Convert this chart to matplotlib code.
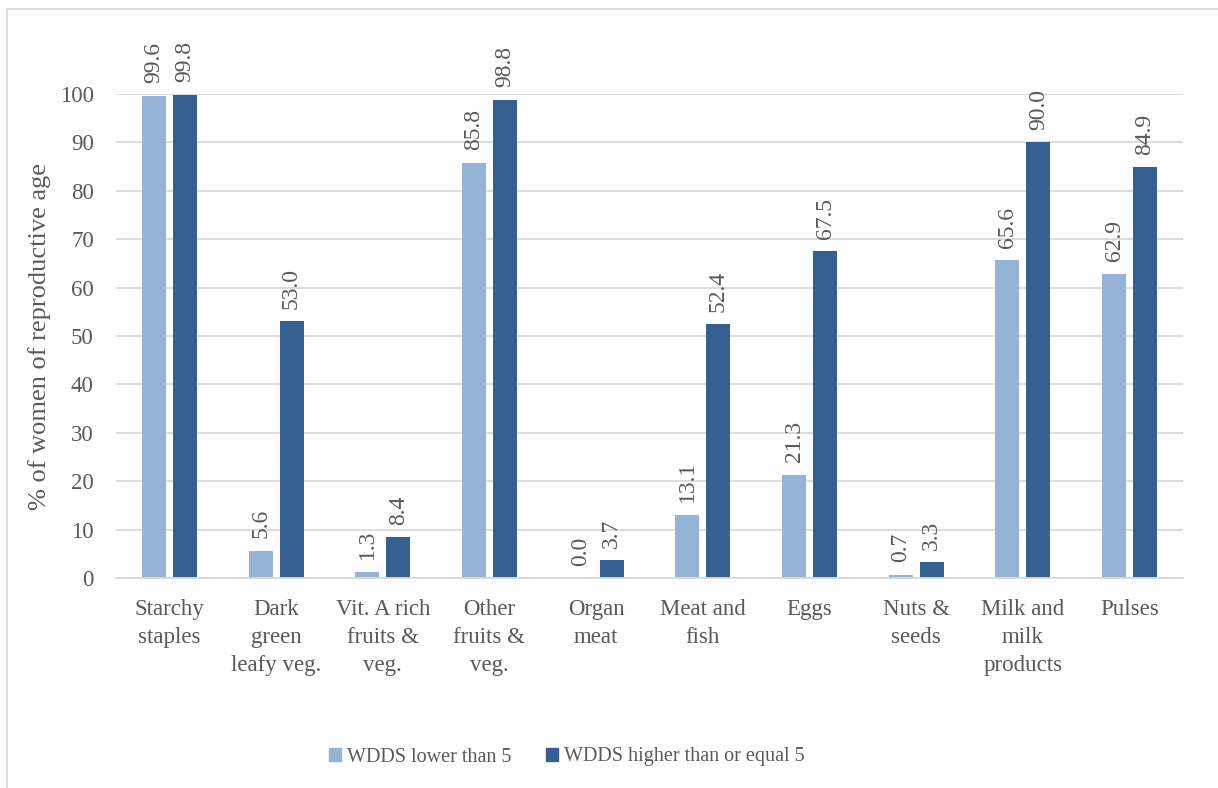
import numpy as np
import matplotlib
matplotlib.use("Agg")
import matplotlib.pyplot as plt
from matplotlib.patches import Rectangle, Patch

plt.rcParams['font.family'] = ['Liberation Serif', 'DejaVu Serif']

# food groups and share of women consuming each group
groups = ["Starchy\nstaples", "Dark\ngreen\nleafy veg.", "Vit. A rich\nfruits &\nveg.",
          "Other\nfruits &\nveg.", "Organ\nmeat", "Meat and\nfish", "Eggs",
          "Nuts &\nseeds", "Milk and\nmilk\nproducts", "Pulses"]
wdds_low = [99.6, 5.6, 1.3, 85.8, 0.0, 13.1, 21.3, 0.7, 65.6, 62.9]
wdds_high = [99.8, 53.0, 8.4, 98.8, 3.7, 52.4, 67.5, 3.3, 90.0, 84.9]
series_names = ["WDDS lower than 5", "WDDS higher than or equal 5"]

light = "#95b3d7"
dark = "#366092"
txt = "#595959"
grid = "#d9d9d9"

fig = plt.figure(figsize=(12.18, 7.88), dpi=100)
ax = fig.add_axes([116/1218, 1-578/788, (1183-116)/1218, 484/788])

x = np.arange(len(groups))
w = 0.225
off = 0.145
b1 = ax.bar(x - off, wdds_low, w, color=light, zorder=3)
b2 = ax.bar(x + off, wdds_high, w, color=dark, zorder=3)

for bars, vals in [(b1, wdds_low), (b2, wdds_high)]:
    for r, v in zip(bars, vals):
        ax.annotate(f"{v:.1f}", (r.get_x() + r.get_width()/2, v),
                    xytext=(0, 9), textcoords="offset points",
                    rotation=90, ha="center", va="bottom",
                    fontsize=17, color=txt, annotation_clip=False)

ax.set_xlim(-0.5, len(groups) - 0.5)
ax.set_ylim(0, 100)
ax.set_yticks(range(0, 101, 10))
ax.yaxis.grid(True, color=grid, lw=1.3, zorder=0)
ax.set_axisbelow(True)
for s in ["top", "right", "left"]:
    ax.spines[s].set_visible(False)
ax.spines["bottom"].set_color(grid)
ax.spines["bottom"].set_linewidth(1.3)
ax.spines["bottom"].set_zorder(4)
ax.tick_params(axis="both", length=0, labelsize=16.5, colors=txt)
ax.tick_params(axis="y", pad=16)
ax.tick_params(axis="x", pad=15)
ax.set_xticks(x)
ax.set_xticklabels(groups, linespacing=1.45)
ax.set_ylabel("% of women of reproductive age", fontsize=19, color=txt, labelpad=6)

handles = [Patch(color=light), Patch(color=dark)]
fig.legend(handles, series_names, loc="center", bbox_to_anchor=(567/1218, 1-757/788),
           ncol=2, frameon=False, fontsize=14.5, handlelength=0.6, handleheight=0.6,
           handletextpad=0.3, columnspacing=1.7, labelcolor=txt)

# outer chart frame
fig.patches.append(Rectangle((7/1218, -0.05), 1.1, 1 - 9/788 + 0.05,
                             transform=fig.transFigure, fill=False,
                             edgecolor=grid, lw=1.3))

fig.savefig("out.png", dpi=100)
